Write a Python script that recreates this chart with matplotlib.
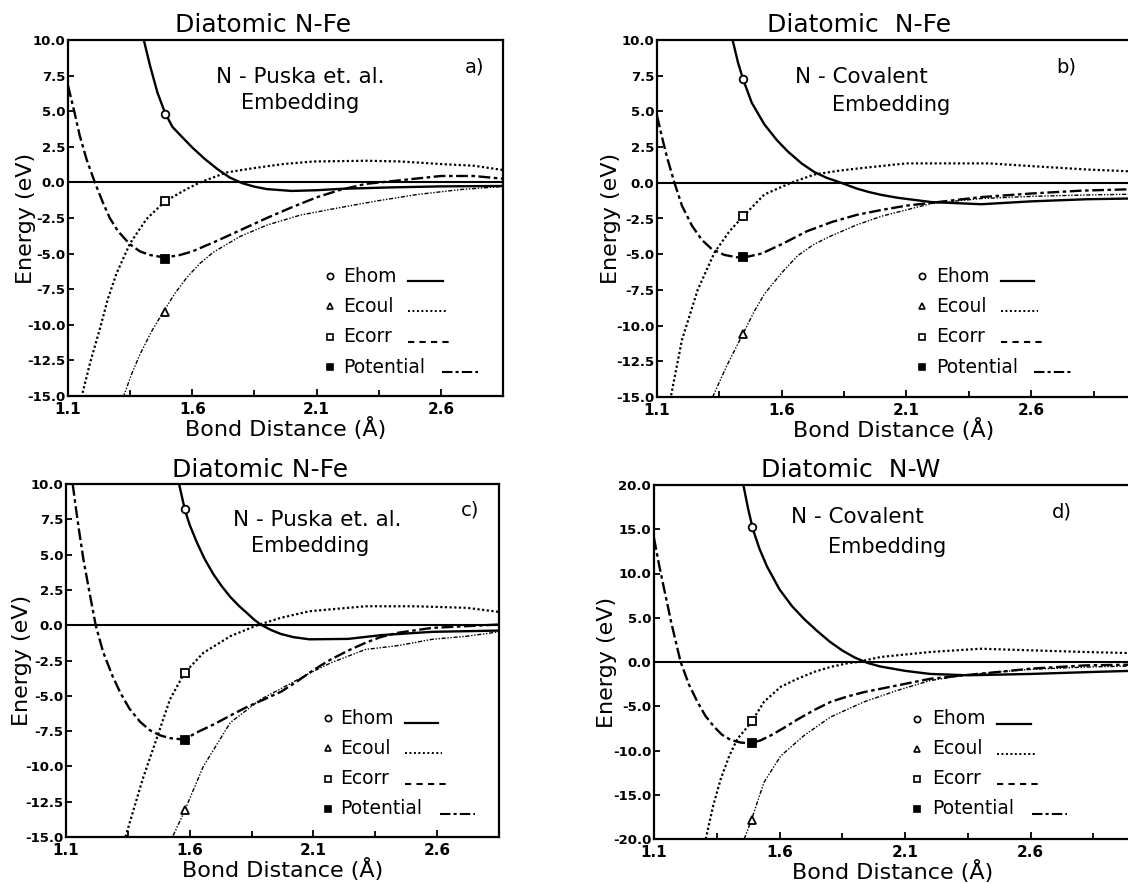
import matplotlib
matplotlib.use("Agg")
import matplotlib.pyplot as plt
from matplotlib.ticker import FixedLocator, FormatStrFormatter

plt.rcParams['font.family'] = ['DejaVu Sans']
plt.rcParams['axes.unicode_minus'] = False

W, H = 1128, 884

# ---------------- data ----------------
# panel a : N-Fe, Puska embedding
a_ehom_x = [1.405, 1.43, 1.46, 1.49, 1.52, 1.55, 1.6, 1.65, 1.7, 1.75, 1.8, 1.85, 1.9, 2.0, 2.1, 2.2, 2.4, 2.6, 2.85]
a_ehom_y = [10.0, 8.2, 6.3, 4.9, 3.9, 3.35, 2.45, 1.65, 0.95, 0.35, -0.05, -0.3, -0.47, -0.6, -0.55, -0.45, -0.35, -0.28, -0.25]
a_ecorr_x = [1.154, 1.19, 1.228, 1.26, 1.295, 1.349, 1.416, 1.49, 1.577, 1.631, 1.738, 1.846, 1.967, 2.088, 2.303, 2.437, 2.599, 2.733, 2.854]
a_ecorr_y = [-15.1, -12.6, -10.3, -8.2, -6.4, -4.3, -2.57, -1.33, -0.47, 0.0, 0.70, 1.0, 1.29, 1.47, 1.52, 1.47, 1.29, 1.17, 0.86]
a_pot_x = [1.1, 1.125, 1.147, 1.175, 1.208, 1.24, 1.268, 1.3, 1.349, 1.39, 1.43, 1.47, 1.51, 1.55, 1.6, 1.7, 1.8, 1.9, 2.0, 2.1, 2.2, 2.3, 2.437, 2.6, 2.733, 2.854]
a_pot_y = [6.8, 5.0, 3.3, 1.6, 0.0, -1.4, -2.5, -3.4, -4.35, -4.85, -5.1, -5.22, -5.22, -5.1, -4.85, -4.1, -3.3, -2.5, -1.75, -1.05, -0.5, -0.1, 0.15, 0.45, 0.45, 0.25]
a_ecoul_x = [1.322, 1.355, 1.389, 1.435, 1.483, 1.53, 1.577, 1.63, 1.685, 1.792, 1.9, 2.034, 2.169, 2.343, 2.505, 2.68, 2.854]
a_ecoul_y = [-15.1, -13.5, -12.1, -10.5, -9.1, -7.8, -6.7, -5.7, -4.9, -3.8, -3.0, -2.3, -1.85, -1.3, -0.85, -0.5, -0.28]
a_mark_x = 1.49
a_mark_y = [4.8, -9.1, -1.33, -5.4]   # Ehom, Ecoul, Ecorr, Potential

# panel b : N-Fe, covalent embedding
b_ehom_x = [1.403, 1.425, 1.446, 1.48, 1.53, 1.58, 1.624, 1.68, 1.731, 1.78, 1.838, 1.9, 1.95, 2.0, 2.065, 2.2, 2.4, 2.6, 2.825, 3.0]
b_ehom_y = [10.0, 8.4, 7.2, 5.6, 4.1, 3.0, 2.2, 1.35, 0.75, 0.35, 0.0, -0.4, -0.65, -0.85, -1.05, -1.35, -1.5, -1.3, -1.15, -1.1]
b_ecorr_x = [1.153, 1.2, 1.263, 1.33, 1.39, 1.446, 1.53, 1.637, 1.731, 1.83, 1.93, 2.1, 2.43, 2.6, 2.825, 3.0]
b_ecorr_y = [-15.2, -11.0, -7.5, -4.9, -3.4, -2.34, -0.82, 0.0, 0.58, 0.85, 1.05, 1.36, 1.36, 1.17, 0.93, 0.8]
b_pot_x = [1.1, 1.12, 1.14, 1.17, 1.2, 1.24, 1.28, 1.32, 1.37, 1.42, 1.47, 1.52, 1.6, 1.7, 1.8, 1.9, 2.0, 2.1, 2.2, 2.4, 2.6, 2.8, 3.0]
b_pot_y = [4.7, 3.2, 1.8, 0.0, -1.6, -3.0, -4.0, -4.65, -5.05, -5.22, -5.15, -4.95, -4.3, -3.4, -2.75, -2.25, -1.9, -1.6, -1.4, -1.0, -0.75, -0.55, -0.45]
b_ecoul_x = [1.323, 1.38, 1.441, 1.49, 1.53, 1.6, 1.664, 1.73, 1.8, 1.9, 2.0, 2.2, 2.4, 2.6, 2.825, 3.0]
b_ecoul_y = [-15.0, -12.8, -10.7, -9.0, -7.8, -6.3, -5.1, -4.3, -3.7, -2.95, -2.34, -1.45, -1.1, -0.95, -0.85, -0.8]
b_mark_x = 1.445
b_mark_y = [7.3, -10.6, -2.3, -5.2]

# panel c : N-Fe, Puska embedding
c_ehom_x = [1.557, 1.58, 1.6, 1.628, 1.66, 1.696, 1.73, 1.764, 1.8, 1.832, 1.86, 1.886, 1.93, 1.968, 2.02, 2.084, 2.24, 2.376, 2.58, 2.85]
c_ehom_y = [10.0, 8.2, 7.1, 5.9, 4.7, 3.6, 2.75, 2.0, 1.35, 0.85, 0.4, 0.05, -0.35, -0.62, -0.85, -1.0, -0.97, -0.7, -0.47, -0.38]
c_ecorr_x = [1.335, 1.41, 1.465, 1.52, 1.578, 1.655, 1.764, 1.873, 1.968, 2.084, 2.31, 2.51, 2.72, 2.85]
c_ecorr_y = [-15.3, -10.9, -8.1, -5.26, -3.4, -1.96, -0.78, 0.0, 0.52, 0.99, 1.34, 1.34, 1.23, 0.94]
c_pot_x = [1.127, 1.14, 1.152, 1.17, 1.193, 1.22, 1.25, 1.288, 1.32, 1.356, 1.4, 1.44, 1.48, 1.52, 1.578, 1.628, 1.7, 1.764, 1.83, 1.9, 1.97, 2.036, 2.084, 2.13, 2.17, 2.24, 2.31, 2.37, 2.44, 2.58, 2.85]
c_pot_y = [10.0, 8.3, 6.8, 4.7, 2.5, 0.0, -1.9, -3.6, -4.8, -5.9, -6.85, -7.45, -7.8, -8.0, -8.1, -7.6, -7.0, -6.4, -5.8, -5.26, -4.7, -3.96, -3.37, -2.85, -2.43, -1.8, -1.25, -0.85, -0.54, -0.19, 0.05]
c_ecoul_x = [1.533, 1.573, 1.655, 1.764, 1.886, 2.0, 2.084, 2.17, 2.31, 2.44, 2.58, 2.72, 2.85]
c_ecoul_y = [-14.9, -13.4, -10.0, -6.9, -5.26, -4.2, -3.4, -2.67, -1.72, -1.45, -1.0, -0.78, -0.47]
c_mark_x = 1.58
c_mark_y = [8.2, -13.1, -3.4, -8.1]

# panel d : N-W, covalent embedding
d_ehom_x = [1.456, 1.475, 1.494, 1.52, 1.55, 1.6, 1.65, 1.7, 1.75, 1.8, 1.85, 1.9, 1.95, 2.0, 2.1, 2.2, 2.35, 2.6, 2.82, 3.0]
d_ehom_y = [20.0, 17.3, 15.0, 12.8, 10.8, 8.2, 6.3, 4.8, 3.5, 2.3, 1.3, 0.5, -0.1, -0.5, -1.0, -1.35, -1.5, -1.35, -1.15, -1.0]
d_ecorr_x = [1.306, 1.336, 1.366, 1.4, 1.432, 1.488, 1.538, 1.605, 1.671, 1.74, 1.804, 1.87, 1.91, 2.003, 2.2, 2.4, 2.6, 2.82, 3.0]
d_ecorr_y = [-20.0, -16.2, -13.2, -10.6, -8.7, -6.8, -4.5, -2.8, -1.9, -1.1, -0.55, -0.15, 0.0, 0.57, 1.13, 1.5, 1.32, 1.13, 1.0]
d_pot_x = [1.1, 1.12, 1.14, 1.17, 1.206, 1.24, 1.273, 1.305, 1.339, 1.37, 1.405, 1.445, 1.485, 1.525, 1.565, 1.62, 1.671, 1.74, 1.804, 1.87, 1.937, 2.07, 2.2, 2.335, 2.47, 2.6, 2.82, 3.0]
d_pot_y = [14.0, 11.0, 8.3, 4.3, 0.0, -2.6, -4.5, -6.1, -7.3, -8.2, -8.8, -9.1, -9.2, -8.85, -8.3, -7.4, -6.5, -5.4, -4.5, -3.9, -3.4, -2.64, -1.9, -1.5, -1.13, -0.75, -0.38, -0.3]
d_ecoul_x = [1.459, 1.485, 1.538, 1.605, 1.698, 1.804, 1.937, 2.07, 2.2, 2.335, 2.47, 2.6, 2.82, 3.0]
d_ecoul_y = [-20.0, -18.1, -13.6, -10.6, -8.3, -6.2, -4.5, -3.2, -2.1, -1.5, -1.13, -0.83, -0.57, -0.45]
d_mark_x = 1.49
d_mark_y = [15.2, -17.8, -6.7, -9.2]

titles = ["Diatomic N-Fe", "Diatomic  N-Fe", "Diatomic N-Fe", "Diatomic  N-W"]
methods = ["N - Puska et. al.", "N - Covalent", "N - Puska et. al.", "N - Covalent"]
tags = ["a)", "b)", "c)", "d)"]
legend_labels = ["Ehom", "Ecoul", "Ecorr", "Potential"]
x_ticks = [1.1, 1.6, 2.1, 2.6]
x_minor = [1.35, 1.85, 2.35, 2.85]
y_ticks_fe = [10.0, 7.5, 5.0, 2.5, 0.0, -2.5, -5.0, -7.5, -10.0, -12.5, -15.0]
y_ticks_w = [20.0, 15.0, 10.0, 5.0, 0.0, -5.0, -10.0, -15.0, -20.0]

# ---------------- styles ----------------
LS = {
    'ehom': dict(ls='-', lw=1.7),
    'ecoul': dict(ls=(0, (3, 1.2, 1, 1.2, 1, 1.2)), lw=1.0),
    'ecorr': dict(ls=(0, (1, 1.1)), lw=1.6),
    'pot': dict(ls=(0, (5, 1.5, 1.5, 1.5)), lw=1.7),
}
MK = [dict(marker='o', mfc='white'), dict(marker='^', mfc='white'),
      dict(marker='s', mfc='white'), dict(marker='s', mfc='black')]
LEG_LS = [dict(ls='-', lw=1.6), dict(ls=(0, (1, 1.3)), lw=1.4),
          dict(ls=(0, (3, 2.5)), lw=1.5), dict(ls=(0, (5, 1.5, 1.5, 1.5)), lw=1.5)]

fig = plt.figure(figsize=(W / 100, H / 100), dpi=100)


def fx(px):
    return px / W


def fy(py):
    return 1 - py / H


def make_axes(l, t, r, b):
    return fig.add_axes([fx(l), fy(b), fx(r) - fx(l), fy(t) - fy(b)])


panels = [
    dict(box=(68, 40, 503, 396), xlim=(1.1, 2.85), ylim=(-15, 10), yt=y_ticks_fe, ylab=-0.074,
         data=[(a_ehom_x, a_ehom_y), (a_ecoul_x, a_ecoul_y), (a_ecorr_x, a_ecorr_y), (a_pot_x, a_pot_y)],
         mx=a_mark_x, my=a_mark_y,
         title=(263, 25), m1=(300, 77), m2=(300, 103), tag=(475, 67),
         leg=dict(mx=330, tx=343, ys=[276, 306, 337, 367], l1=(408, 443), l2=(442, 478))),
    dict(box=(657, 40, 1131, 397), xlim=(1.1, 3.0), ylim=(-15, 10), yt=y_ticks_fe, ylab=-0.076,
         data=[(b_ehom_x, b_ehom_y), (b_ecoul_x, b_ecoul_y), (b_ecorr_x, b_ecorr_y), (b_pot_x, b_pot_y)],
         mx=b_mark_x, my=b_mark_y,
         title=(859, 25), m1=(861, 77), m2=(891, 105), tag=(1066, 67),
         leg=dict(mx=922, tx=936, ys=[276, 306, 337, 367], l1=(1001, 1034), l2=(1034, 1071))),
    dict(box=(66, 484, 499, 837), xlim=(1.1, 2.85), ylim=(-15, 10), yt=y_ticks_fe, ylab=-0.079,
         data=[(c_ehom_x, c_ehom_y), (c_ecoul_x, c_ecoul_y), (c_ecorr_x, c_ecorr_y), (c_pot_x, c_pot_y)],
         mx=c_mark_x, my=c_mark_y,
         title=(260, 470), m1=(317, 520), m2=(310, 546), tag=(470, 510),
         leg=dict(mx=328, tx=340, ys=[718, 748, 779, 809], l1=(405, 438), l2=(440, 475))),
    dict(box=(654, 485, 1131, 839), xlim=(1.1, 3.0), ylim=(-20, 20), yt=y_ticks_w, ylab=-0.078,
         data=[(d_ehom_x, d_ehom_y), (d_ecoul_x, d_ecoul_y), (d_ecorr_x, d_ecorr_y), (d_pot_x, d_pot_y)],
         mx=d_mark_x, my=d_mark_y,
         title=(851, 470), m1=(857, 517), m2=(887, 547), tag=(1062, 512),
         leg=dict(mx=917, tx=932, ys=[719, 749, 779, 809], l1=(997, 1031), l2=(1032, 1067))),
]

keys = ['ehom', 'ecoul', 'ecorr', 'pot']

for i, p in enumerate(panels):
    ax = make_axes(*p['box'])
    ax.set_xlim(*p['xlim'])
    ax.set_ylim(*p['ylim'])
    for sp in ax.spines.values():
        sp.set_linewidth(1.6)
    ax.axhline(0, color='black', lw=1.5)
    for k, (xs, ys) in zip(keys, p['data']):
        ax.plot(xs, ys, color='black', **LS[k])
    for j, yv in enumerate(p['my']):
        ax.plot([p['mx']], [yv], ls='none', color='black', ms=5.5, mew=1.3, **MK[j])
    ax.xaxis.set_major_locator(FixedLocator(x_ticks))
    ax.xaxis.set_minor_locator(FixedLocator(x_minor))
    ax.yaxis.set_major_locator(FixedLocator(p['yt']))
    ax.xaxis.set_major_formatter(FormatStrFormatter('%.1f'))
    ax.yaxis.set_major_formatter(FormatStrFormatter('%.1f'))
    ax.tick_params(axis='both', which='both', direction='in', top=False, right=False, width=1.3)
    ax.tick_params(axis='x', which='major', length=5, labelsize=11, pad=4)
    ax.tick_params(axis='x', which='minor', length=4)
    ax.tick_params(axis='y', which='major', length=4, labelsize=9.5, pad=2)
    for lab in ax.get_xticklabels() + ax.get_yticklabels():
        lab.set_fontweight('bold')
    ax.set_xlabel("Bond Distance (Å)", fontsize=16, labelpad=0)
    ax.set_ylabel("Energy (eV)", fontsize=16)
    ax.yaxis.set_label_coords(p['ylab'], 0.5)

    fig.text(fx(p['title'][0]), fy(p['title'][1]), titles[i], fontsize=18, ha='center', va='center')
    fig.text(fx(p['m1'][0]), fy(p['m1'][1]), methods[i], fontsize=15.5, ha='center', va='center')
    fig.text(fx(p['m2'][0]), fy(p['m2'][1]), "Embedding", fontsize=15, ha='center', va='center')
    fig.text(fx(p['tag'][0]), fy(p['tag'][1]), tags[i], fontsize=14, ha='center', va='center')

    lg = p['leg']
    for j, lab in enumerate(legend_labels):
        yy = lg['ys'][j]
        fig.lines.append(plt.Line2D([fx(lg['mx'])], [fy(yy)], transform=fig.transFigure,
                                    color='black', ls='none', ms=4.5, mew=1.2, **MK[j]))
        fig.text(fx(lg['tx']), fy(yy), lab, fontsize=13.5, ha='left', va='center')
        x0, x1 = lg['l2'] if j == 3 else lg['l1']
        if j == 1:
            x1 += 4
        if j == 2:
            x1 += 8
        fig.lines.append(plt.Line2D([fx(x0), fx(x1)], [fy(yy + 5), fy(yy + 5)], transform=fig.transFigure,
                                    color='black', **LEG_LS[j]))

fig.savefig("out.png", dpi=100)
